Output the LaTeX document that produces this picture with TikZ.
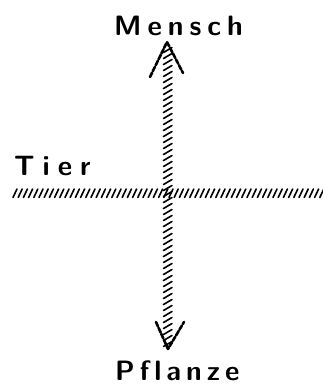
\documentclass[tikz,border=0pt]{standalone}
\begin{document}
\begin{tikzpicture}[x=1pt,y=1pt,
  lbl/.style={font=\fontsize{28}{28}\selectfont\sffamily\bfseries, inner sep=0pt, anchor=base west},
  hatch/.style={line width=1.6pt, line cap=round},
  headstroke/.style={line width=2.6pt, line cap=round, line join=round, dash pattern=on 5pt off 1.5pt}]
\useasboundingbox (0,0) rectangle (323,-385);
\node[lbl] (mensch) at (114,-36) {M\kern6pt e\kern6pt n\kern6pt s\kern6pt c\kern6pt h};
\node[lbl] (tier) at (14,-175) {T\kern8pt i\kern8pt e\kern8pt r};
\node[lbl] (pflanze) at (115,-380) {P\kern5pt f\kern5pt l\kern5pt a\kern5pt n\kern5pt z\kern5pt e};
\coordinate (top) at (167,-42);
\coordinate (bot) at (168,-349);
\coordinate (left) at (13,-193);
\coordinate (right) at (323,-193);
% horizontal hatched line
\foreach \x in {15,20.2,...,322} {
  \draw[hatch] (\x-2,-197.5) -- (\x+2,-189);
}
% vertical hatched line
\foreach \y in {50,56,...,346} {
  \draw[hatch] (163.5,-\y-2.5) -- (172,-\y+2.5);
}
% arrowheads
\draw[headstroke] (150,-77) -- (top) -- (183,-73);
\draw[headstroke] (156,-322) -- (bot) -- (184,-322);
\end{tikzpicture}
\end{document}
